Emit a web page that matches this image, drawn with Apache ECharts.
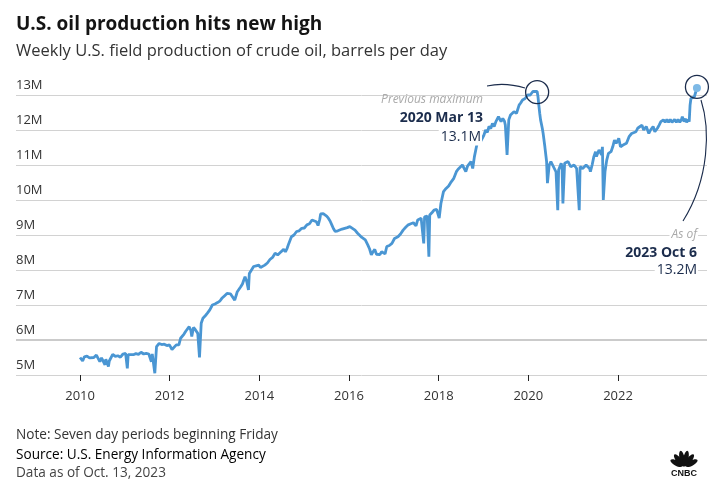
<!DOCTYPE html>
<html>
<head>
<meta charset="utf-8">
<title>U.S. oil production hits new high</title>
<script src="https://cdn.jsdelivr.net/npm/echarts@6.0.0/dist/echarts.min.js"></script>
<style>
  html, body { margin: 0; padding: 0; background: #fff; }
  #main { width: 725px; height: 491px; }
</style>
</head>
<body>
<div id="main"></div>
<script>
// weekly field production of crude oil, million barrels per day
var weeks = [
  '2010-01-01','2010-01-15','2010-01-22','2010-02-05','2010-02-26','2010-03-19','2010-04-02','2010-04-23',
  '2010-05-14','2010-05-28','2010-06-11','2010-06-25','2010-07-09','2010-07-23','2010-07-30','2010-08-06',
  '2010-08-20','2010-08-27','2010-09-10','2010-09-24','2010-10-15','2010-11-05','2010-11-26','2010-12-17',
  '2011-01-07','2011-01-21','2011-01-28','2011-02-11','2011-03-11','2011-04-01','2011-04-22','2011-05-13',
  '2011-06-03','2011-06-24','2011-07-15','2011-07-29','2011-08-05','2011-08-12','2011-08-26','2011-09-02',
  '2011-09-16','2011-10-07','2011-10-28','2011-11-18','2011-12-09','2011-12-30','2012-01-20','2012-02-03',
  '2012-02-24','2012-03-16','2012-03-30','2012-04-13','2012-04-27','2012-05-11','2012-05-25','2012-06-08',
  '2012-06-22','2012-06-29','2012-07-13','2012-07-27','2012-08-10','2012-08-17','2012-08-31','2012-09-14',
  '2012-09-28','2012-10-19','2012-11-02','2012-11-23','2012-12-14','2013-01-04','2013-01-25','2013-02-15',
  '2013-03-01','2013-03-22','2013-04-12','2013-04-26','2013-05-10','2013-05-24','2013-06-14','2013-06-28',
  '2013-07-05','2013-07-19','2013-08-02','2013-08-16','2013-08-23','2013-09-06','2013-09-20','2013-10-04',
  '2013-10-11','2013-10-25','2013-11-15','2013-12-06','2013-12-27','2014-01-10','2014-01-24','2014-02-14',
  '2014-03-07','2014-03-28','2014-04-18','2014-05-09','2014-05-30','2014-06-20','2014-07-04','2014-07-18',
  '2014-08-01','2014-08-15','2014-08-29','2014-09-19','2014-10-10','2014-10-31','2014-11-21','2014-12-12',
  '2015-01-02','2015-01-23','2015-02-13','2015-03-06','2015-03-20','2015-04-10','2015-04-24','2015-05-08',
  '2015-05-15','2015-06-05','2015-06-19','2015-07-03','2015-07-17','2015-07-31','2015-08-14','2015-08-28',
  '2015-09-11','2015-10-02','2015-10-16','2015-11-06','2015-11-27','2015-12-18','2016-01-08','2016-01-29',
  '2016-02-19','2016-03-11','2016-03-25','2016-04-15','2016-05-13','2016-06-03','2016-06-17','2016-07-01',
  '2016-07-15','2016-07-29','2016-08-12','2016-08-26','2016-09-09','2016-09-23','2016-10-07','2016-10-21',
  '2016-11-04','2016-11-25','2016-12-16','2017-01-06','2017-02-03','2017-02-24','2017-03-17','2017-04-07',
  '2017-04-28','2017-05-19','2017-06-09','2017-06-30','2017-07-14','2017-08-11','2017-08-25','2017-09-01',
  '2017-09-08','2017-09-29','2017-10-06','2017-10-13','2017-10-20','2017-11-10','2017-11-24','2017-12-15',
  '2017-12-29','2018-01-05','2018-01-19','2018-02-09','2018-03-02','2018-03-23','2018-04-13','2018-05-04',
  '2018-05-25','2018-06-08','2018-06-22','2018-07-13','2018-07-27','2018-08-10','2018-08-24','2018-09-07',
  '2018-09-21','2018-10-05','2018-10-19','2018-10-26','2018-11-09','2018-11-16','2018-12-07','2018-12-21',
  '2019-01-04','2019-01-18','2019-02-01','2019-02-15','2019-03-01','2019-03-15','2019-03-29','2019-04-12',
  '2019-04-26','2019-05-03','2019-05-24','2019-06-07','2019-06-21','2019-06-28','2019-07-12','2019-07-26',
  '2019-08-09','2019-08-23','2019-09-06','2019-09-27','2019-10-18','2019-11-01','2019-11-15','2019-12-06',
  '2019-12-27','2020-01-17','2020-02-07','2020-02-21','2020-03-13','2020-03-20','2020-03-27','2020-04-03',
  '2020-04-10','2020-04-24','2020-05-01','2020-05-15','2020-05-29','2020-06-05','2020-06-19','2020-07-03',
  '2020-07-17','2020-07-31','2020-08-14','2020-08-28','2020-09-04','2020-09-25','2020-10-02','2020-10-09',
  '2020-10-23','2020-11-06','2020-11-20','2020-12-11','2021-01-08','2021-01-29','2021-02-12','2021-02-19',
  '2021-02-26','2021-03-19','2021-04-16','2021-04-30','2021-05-14','2021-05-21','2021-06-04','2021-06-18',
  '2021-07-02','2021-07-09','2021-07-30','2021-08-20','2021-08-27','2021-09-03','2021-09-17','2021-10-01',
  '2021-10-15','2021-11-05','2021-11-19','2021-12-03','2021-12-17','2022-01-07','2022-01-21','2022-02-11',
  '2022-03-11','2022-04-01','2022-04-22','2022-05-06','2022-05-27','2022-06-10','2022-06-24','2022-07-15',
  '2022-07-29','2022-08-19','2022-09-09','2022-09-23','2022-10-14','2022-10-28','2022-11-18','2022-12-02',
  '2022-12-16','2023-01-06','2023-01-20','2023-02-03','2023-02-17','2023-03-03','2023-03-17','2023-04-07',
  '2023-04-21','2023-05-05','2023-05-19','2023-06-02','2023-06-09','2023-06-23','2023-07-07','2023-07-14',
  '2023-07-28','2023-08-04','2023-08-11','2023-08-18','2023-09-01','2023-09-15','2023-09-29','2023-10-06'
];
var barrels = [
  5.50,5.45,5.40,5.52,5.54,5.49,5.51,5.50,
  5.57,5.52,5.38,5.49,5.45,5.29,5.45,5.40,
  5.24,5.40,5.43,5.59,5.53,5.55,5.51,5.60,
  5.62,5.19,5.58,5.62,5.58,5.61,5.59,5.65,
  5.60,5.62,5.60,5.55,5.38,5.60,5.62,5.05,
  5.81,5.90,5.87,5.88,5.84,5.86,5.73,5.76,
  5.86,5.86,6.05,6.10,6.17,6.25,6.21,6.38,
  6.27,6.10,6.36,6.30,6.33,6.19,5.50,6.48,
  6.62,6.70,6.76,6.86,7.00,7.03,7.07,7.12,
  7.19,7.26,7.33,7.38,7.32,7.29,7.14,7.30,
  7.38,7.45,7.52,7.60,7.67,7.81,7.67,7.43,
  7.90,7.98,8.10,8.12,8.14,8.07,8.05,8.14,
  8.20,8.30,8.36,8.48,8.43,8.50,8.55,8.59,
  8.52,8.62,8.76,8.95,9.00,9.10,9.12,9.19,
  9.20,9.29,9.32,9.43,9.40,9.38,9.27,9.45,
  9.60,9.61,9.60,9.54,9.48,9.40,9.29,9.18,
  9.10,9.12,9.14,9.17,9.19,9.21,9.24,9.19,
  9.14,9.05,9.00,8.93,8.86,8.71,8.60,8.43,
  8.52,8.59,8.45,8.48,8.44,8.52,8.47,8.46,
  8.67,8.70,8.76,8.90,8.95,9.03,9.14,9.22,
  9.29,9.32,9.35,9.26,9.43,9.48,9.50,8.76,
  9.52,9.54,9.56,8.38,9.57,9.65,9.71,9.73,
  9.78,9.48,9.90,10.24,10.33,10.40,10.52,10.62,
  10.81,10.88,10.90,11.00,10.95,10.81,10.97,11.00,
  11.10,10.90,11.24,11.20,11.60,11.70,11.66,11.67,
  11.85,12.00,11.93,12.10,12.04,12.19,12.10,12.24,
  12.20,12.38,12.24,12.33,12.25,12.14,11.29,12.29,
  12.43,12.40,12.52,12.48,12.71,12.78,12.86,12.90,
  13.00,13.00,13.10,13.05,13.10,12.95,12.70,12.48,
  12.29,12.05,11.90,11.52,11.10,10.48,11.00,11.10,
  11.05,10.90,10.80,9.71,10.86,11.05,10.95,9.90,
  11.05,11.00,11.10,10.95,11.00,10.90,10.85,9.71,
  10.95,10.90,11.00,10.95,10.90,10.81,11.00,11.24,
  11.38,11.24,11.43,11.29,11.52,10.00,10.81,11.14,
  11.33,11.38,11.52,11.71,11.62,11.76,11.52,11.57,
  11.62,11.81,11.90,11.86,11.95,12.05,12.00,12.14,
  12.00,12.10,11.90,12.00,12.10,11.95,12.05,12.14,
  12.24,12.29,12.22,12.30,12.22,12.30,12.22,12.30,
  12.22,12.30,12.22,12.30,12.38,12.24,12.32,12.22,
  12.30,12.24,12.71,12.90,12.88,12.95,12.95,13.20
];
var tickYears = [2010, 2012, 2014, 2016, 2018, 2020, 2022];
var yTicks = [5, 6, 7, 8, 9, 10, 11, 12, 13];

var prevMax = { week: '2020-03-13', value: 13.1 };
var latest = { week: weeks[weeks.length - 1], value: barrels[barrels.length - 1] };

var FONT = '"Open Sans", Lato, sans-serif';
var NAVY = '#1b2c4c';
var LINE = '#4a96d3';

function stamp(s) { return Date.parse(s + 'T00:00:00Z'); }

var seriesData = weeks.map(function (w, i) { return [stamp(w), barrels[i]]; });
var tickStamps = tickYears.map(function (y) { return Date.UTC(y, 0, 1); });

var chart = echarts.init(document.getElementById('main'));

chart.setOption({
  animation: false,
  textStyle: { fontFamily: FONT },
  title: {
    text: 'U.S. oil production hits new high',
    subtext: 'Weekly U.S. field production of crude oil, barrels per day',
    left: 11,
    top: 8,
    itemGap: 5,
    textStyle: { fontFamily: FONT, fontSize: 19, fontWeight: 'bold', color: '#141414', lineHeight: 24 },
    subtextStyle: { fontFamily: FONT, fontSize: 16.5, color: '#333', lineHeight: 19 }
  },
  grid: { left: 16, right: 18, top: 77.5, bottom: 116, containLabel: false },
  xAxis: {
    type: 'value',
    min: stamp('2008-07-28'),
    max: stamp('2023-12-27'),
    axisLine: { show: false },
    splitLine: { show: false },
    axisTick: { show: true, length: 6, customValues: tickStamps, lineStyle: { color: '#222', width: 1 } },
    axisLabel: {
      customValues: tickStamps,
      margin: 15,
      fontSize: 13,
      color: '#333',
      fontFamily: FONT,
      formatter: function (v) { return String(new Date(v + 864e5).getUTCFullYear()); }
    }
  },
  yAxis: {
    type: 'value',
    min: 5,
    max: 13.5,
    axisLine: { show: false },
    axisTick: { show: false, customValues: yTicks },
    splitLine: { lineStyle: { color: '#d2d2d2', width: 1 } },
    axisLabel: {
      customValues: yTicks,
      inside: true,
      margin: 0,
      verticalAlign: 'bottom',
      padding: [0, 0, 3, 0],
      fontSize: 13,
      color: '#333',
      fontFamily: FONT,
      formatter: function (v) { return v + 'M'; }
    }
  },
  series: [{
    type: 'line',
    data: seriesData,
    showSymbol: false,
    z: 3,
    lineStyle: { color: LINE, width: 2.8 },
    markLine: {
      silent: true,
      symbol: 'none',
      z: 1,
      label: { show: false },
      lineStyle: { color: '#cbcbcb', width: 2, type: 'solid' },
      data: [{ yAxis: 6 }]
    },
    markPoint: {
      silent: true,
      label: { show: false },
      data: [
        { coord: [stamp(latest.week), latest.value], symbol: 'circle', symbolSize: 8,
          itemStyle: { color: '#7db9e6', borderWidth: 0 } },
        { coord: [stamp(prevMax.week), prevMax.value - 0.02], symbol: 'circle', symbolSize: 23,
          itemStyle: { color: 'rgba(0,0,0,0)', borderColor: NAVY, borderWidth: 1.3 } },
        { coord: [stamp(latest.week), latest.value + 0.03], symbol: 'circle', symbolSize: 23,
          itemStyle: { color: 'rgba(0,0,0,0)', borderColor: NAVY, borderWidth: 1.3 } }
      ]
    }
  }],
  graphic: [
    // previous maximum annotation
    { type: 'bezierCurve', z: 10, silent: true,
      shape: { x1: 487, y1: 86, x2: 525, y2: 88, cpx1: 505, cpy1: 82 },
      style: { stroke: NAVY, lineWidth: 1.1, fill: null } },
    { type: 'text', z: 10, silent: true, x: 483, y: 100,
      style: { text: 'Previous maximum', align: 'right', verticalAlign: 'middle',
        font: 'italic 12px ' + FONT, fill: '#a9a9a9' } },
    { type: 'text', z: 10, silent: true, x: 483, y: 118,
      style: { text: '2020 Mar 13', align: 'right', verticalAlign: 'middle',
        font: 'bold 14px ' + FONT, fill: NAVY } },
    { type: 'text', z: 10, silent: true, x: 482, y: 137,
      style: { text: '13.1M', align: 'right', verticalAlign: 'middle',
        font: '14px ' + FONT, fill: NAVY, backgroundColor: '#fff', padding: [2, 1, 1, 2] } },
    // latest annotation
    { type: 'bezierCurve', z: 10, silent: true,
      shape: { x1: 701, y1: 100, x2: 683, y2: 221, cpx1: 710, cpy1: 128, cpx2: 710, cpy2: 178 },
      style: { stroke: NAVY, lineWidth: 1.1, fill: null } },
    { type: 'text', z: 10, silent: true, x: 698, y: 235,
      style: { text: 'As of', align: 'right', verticalAlign: 'middle',
        font: 'italic 12px ' + FONT, fill: '#a9a9a9', backgroundColor: '#fff', padding: [1, 1, 1, 2] } },
    { type: 'text', z: 10, silent: true, x: 697, y: 253,
      style: { text: '2023 Oct 6', align: 'right', verticalAlign: 'middle',
        font: 'bold 14px ' + FONT, fill: NAVY } },
    { type: 'text', z: 10, silent: true, x: 698, y: 270,
      style: { text: '13.2M', align: 'right', verticalAlign: 'middle',
        font: '14px ' + FONT, fill: NAVY, backgroundColor: '#fff', padding: [1, 1, 1, 2] } },
    // footer
    { type: 'text', silent: true, left: 16, top: 428,
      style: { text: 'Note: Seven day periods beginning Friday', font: '13.6px ' + FONT, fill: '#333' } },
    { type: 'text', silent: true, left: 16, top: 448,
      style: {
        text: '{g|Source: }{b|U.S. Energy Information Agency}',
        rich: {
          g: { fontSize: 13.6, fontFamily: FONT, color: '#555' },
          b: { fontSize: 13.6, fontFamily: FONT, color: '#2b70b6' }
        }
      } },
    { type: 'text', silent: true, left: 16, top: 466,
      style: { text: 'Data as of Oct. 13, 2023', font: '13.6px ' + FONT, fill: '#444' } },
    // CNBC peacock
    { type: 'group', silent: true, x: 684, y: 467, children: [
      { type: 'ellipse', rotation: 1.09, shape: { cx: -7.6, cy: -3.9, rx: 2.6, ry: 6.6 }, style: { fill: '#111' },
        originX: -7.6, originY: -3.9 },
      { type: 'ellipse', rotation: 0.65, shape: { cx: -5.2, cy: -6.8, rx: 2.6, ry: 7.3 }, style: { fill: '#111' },
        originX: -5.2, originY: -6.8 },
      { type: 'ellipse', rotation: 0.22, shape: { cx: -1.8, cy: -8.3, rx: 2.6, ry: 8 }, style: { fill: '#111' },
        originX: -1.8, originY: -8.3 },
      { type: 'ellipse', rotation: -0.22, shape: { cx: 1.8, cy: -8.3, rx: 2.6, ry: 8 }, style: { fill: '#111' },
        originX: 1.8, originY: -8.3 },
      { type: 'ellipse', rotation: -0.65, shape: { cx: 5.2, cy: -6.8, rx: 2.6, ry: 7.3 }, style: { fill: '#111' },
        originX: 5.2, originY: -6.8 },
      { type: 'ellipse', rotation: -1.09, shape: { cx: 7.6, cy: -3.9, rx: 2.6, ry: 6.6 }, style: { fill: '#111' },
        originX: 7.6, originY: -3.9 },
      { type: 'text', x: 0, y: 7,
        style: { text: 'CNBC', align: 'center', verticalAlign: 'middle',
          font: 'bold 9px "Liberation Sans", Arial, sans-serif', fill: '#111' } }
    ] }
  ]
});
</script>
</body>
</html>
